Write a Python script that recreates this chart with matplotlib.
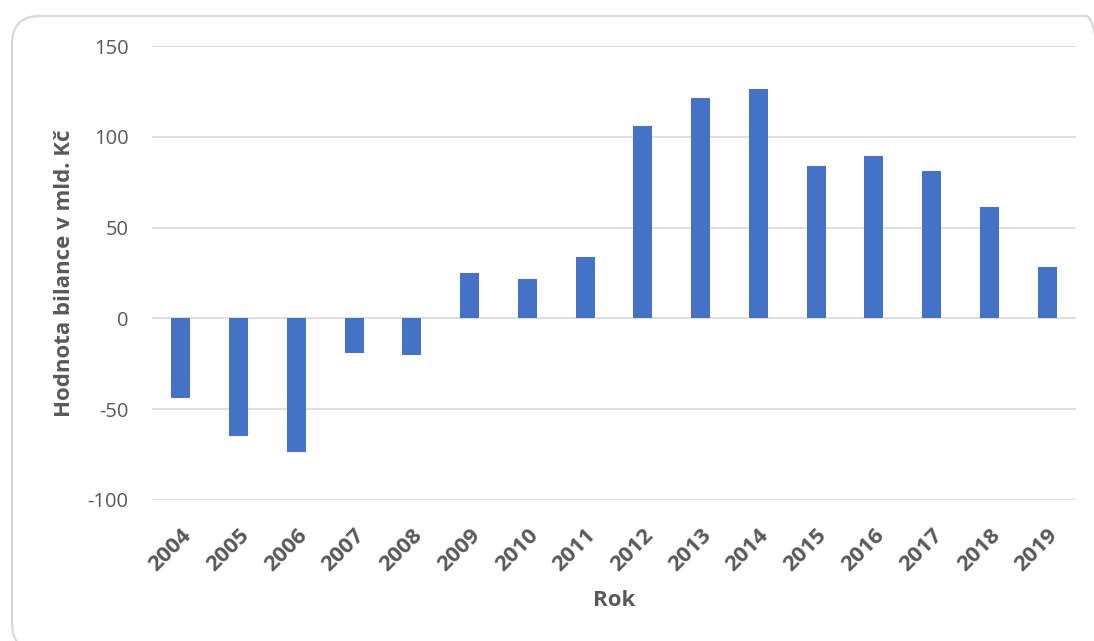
import matplotlib.pyplot as plt
from matplotlib.patches import FancyBboxPatch

# Bilance (mld. Kč) po letech
roky = ['2004', '2005', '2006', '2007', '2008', '2009', '2010', '2011',
        '2012', '2013', '2014', '2015', '2016', '2017', '2018', '2019']
bilance = [-43.6, -65.0, -73.4, -19.3, -20.4, 24.8, 21.5, 33.6,
           105.9, 121.3, 126.3, 83.8, 89.4, 81.1, 61.2, 28.1]
y_ticks = [-100, -50, 0, 50, 100, 150]

BAR_COLOR = '#4472C4'
TEXT_COLOR = '#595959'
GRID_COLOR = '#D9D9D9'

plt.rcParams['font.family'] = ['Open Sans', 'DejaVu Sans']

W, H = 1094, 641
fig = plt.figure(figsize=(W / 100, H / 100), dpi=100)

# rámeček grafu se zaoblenými rohy (souřadnice v pixelech, počátek vlevo dole)
bg = fig.add_axes([0, 0, 1, 1])
bg.set_xlim(0, W)
bg.set_ylim(0, H)
bg.axis('off')
bg.add_patch(FancyBboxPatch((12, -10), 1102, 635,
                            boxstyle='round,pad=0,rounding_size=28',
                            facecolor='none', edgecolor=GRID_COLOR,
                            linewidth=1.6, clip_on=False))

ax = fig.add_axes([0.1389, 0.2200, 0.8446, 0.7082])

x = range(len(roky))
ax.bar(x, bilance, width=0.33, color=BAR_COLOR, zorder=3)

ax.set_ylim(-100, 150)
ax.set_xlim(-0.5, len(roky) - 0.5)
ax.set_yticks(y_ticks)
ax.set_yticklabels([str(v) for v in y_ticks], fontsize=14.5, color=TEXT_COLOR)
ax.set_xticks(list(x))
ax.set_xticklabels(roky, rotation=45, ha='right', rotation_mode='anchor',
                   fontsize=16, fontweight='bold', color=TEXT_COLOR)
ax.tick_params(axis='both', length=0)
ax.tick_params(axis='y', pad=17)
ax.tick_params(axis='x', pad=18)

ax.grid(axis='y', color=GRID_COLOR, linewidth=1.2, zorder=0)
for side in ax.spines.values():
    side.set_visible(False)

ax.set_ylabel('Hodnota bilance v mld. Kč', fontsize=16, fontweight='bold',
              color=TEXT_COLOR)
ax.yaxis.set_label_coords(-0.0833, 0.5)
ax.set_xlabel('Rok', fontsize=16, fontweight='bold', color=TEXT_COLOR)
ax.xaxis.set_label_coords(0.5, -0.198)

fig.savefig('out.png', dpi=100)
